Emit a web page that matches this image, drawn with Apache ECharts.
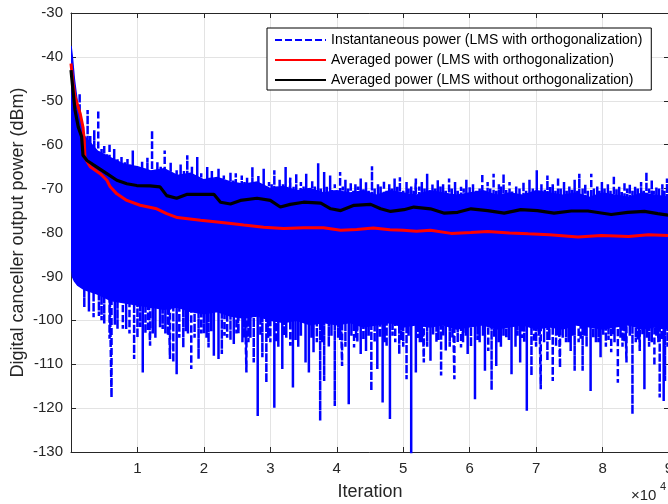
<!DOCTYPE html>
<html>
<head>
<meta charset="utf-8">
<script src="https://cdn.jsdelivr.net/npm/echarts@6/dist/echarts.min.js"></script>
<style>
  html, body { margin: 0; padding: 0; background: #fff; }
  #chart { width: 668px; height: 504px; }
</style>
</head>
<body>
<div id="chart"></div>
<script>
// x values are in units of 1e4 iterations
// dense part of the instantaneous power (top / bottom edge)
const coreX = [0, 0.02, 0.05, 0.1, 0.15, 0.2, 0.4, 0.6, 0.8, 1.0, 1.2, 1.4, 1.6, 1.8, 2.0, 2.2, 2.4, 2.6, 2.8, 3.0,
  3.2, 3.4, 3.6, 3.8, 4.0, 4.2, 4.4, 4.6, 4.8, 5.0, 5.2, 5.4, 5.6, 5.8, 6.0, 6.2, 6.4, 6.6, 6.8, 7.0,
  7.2, 7.4, 7.6, 7.8, 8.0, 8.2, 8.4, 8.6, 8.8, 9.0]
const coreTop = [-37.5, -40, -45, -51, -55, -58, -61.5, -63, -64.5, -65, -66, -65.5, -67, -66.5, -68, -67.5, -68.5, -69, -68.5, -70,
  -69.5, -70.5, -70, -71, -70.5, -71, -70.5, -71.5, -70.5, -71, -71.5, -70.5, -71, -71.5, -71, -70.5, -71.5, -71, -71.5, -70.5,
  -71, -71.5, -71, -72, -71, -71.5, -72, -71, -71.5, -72]
const coreBottom = [-86, -90, -91, -92, -92.5, -93, -94, -95.5, -96, -96.5, -97, -97.5, -97, -98, -98.5, -98, -99, -99.5, -99, -100,
  -100.5, -100, -101, -100.5, -101, -100.5, -101.5, -101, -100.5, -101.5, -101, -101.5, -101, -102, -101.5, -101, -102, -101.5, -101, -102,
  -101.5, -102, -101, -101.5, -102, -101.5, -101, -102, -101.5, -102]

// upward spikes of the instantaneous power
const upSpikeX = [0.13, 0.25, 0.35, 0.41, 0.5, 0.58, 0.65, 0.76, 0.85, 0.93, 1.07, 1.15, 1.22, 1.3, 1.41, 1.5, 1.59, 1.65, 1.75, 1.82,
  1.9, 2.05, 2.12, 2.22, 2.3, 2.4, 2.48, 2.57, 2.65, 2.73, 2.82, 2.9, 2.98, 3.06, 3.14, 3.23, 3.3, 3.39, 3.46, 3.54,
  3.63, 3.72, 3.81, 3.9, 3.97, 4.05, 4.13, 4.21, 4.28, 4.36, 4.44, 4.53, 4.62, 4.71, 4.79, 4.87, 4.95, 5.05, 5.12, 5.19,
  5.28, 5.36, 5.44, 5.52, 5.6, 5.69, 5.78, 5.87, 5.95, 6.05, 6.19, 6.27, 6.36, 6.44, 6.51, 6.6, 6.7, 6.81, 6.9, 7.01,
  7.08, 7.17, 7.25, 7.33, 7.42, 7.5, 7.58, 7.65, 7.74, 7.83, 7.92, 7.99, 8.08, 8.17, 8.25, 8.33, 8.41, 8.49, 8.58, 8.66,
  8.74, 8.81, 8.9, 8.97,
  0.18, 0.29, 0.46, 0.54, 0.7, 0.81, 0.89, 0.98, 1.11, 1.26, 1.35, 1.45, 1.55, 1.7, 1.86, 1.96, 2.09, 2.17, 2.27, 2.35,
  2.44, 2.53, 2.61, 2.69, 2.78, 2.86, 2.94, 3.02, 3.1, 3.19, 3.27, 3.35, 3.43, 3.5, 3.58, 3.67, 3.76, 3.85, 3.93, 4.01,
  4.09, 4.17, 4.25, 4.32, 4.4, 4.48, 4.57, 4.66, 4.75, 4.83, 4.91, 5.0, 5.08, 5.16, 5.24, 5.32, 5.4, 5.48, 5.56, 5.64,
  5.73, 5.82, 5.91, 6.0, 6.1, 6.15, 6.23, 6.31, 6.4, 6.47, 6.55, 6.64, 6.75, 6.85, 6.95, 7.04, 7.13, 7.21, 7.29, 7.37,
  7.46, 7.54, 7.62, 7.7, 7.78, 7.87, 7.95, 8.03, 8.12, 8.21, 8.29, 8.37, 8.45, 8.53, 8.62, 8.7, 8.77, 8.85, 8.93]
const upSpikeY = [-48.3, -52.1, -56.7, -52.1, -60, -59.7, -61, -62.8, -63, -61.3, -63.6, -63, -56.7, -64, -61.3, -64, -65.8, -64.5, -62.4, -65,
  -62.8, -65.1, -66, -65.5, -67, -66.2, -66.5, -67, -67.5, -65.1, -67, -65.5, -68.5, -65.8, -68, -65.1, -67.5, -66.6, -68.5, -66.6,
  -68, -64.2, -66.2, -67, -69, -66.2, -68, -68.5, -69, -67.7, -68.5, -64.9, -69, -68.1, -69, -67.7, -67.4, -68.5, -69.5, -67.7,
  -68.5, -66.6, -69, -68.1, -69, -67.7, -68.5, -69.6, -68, -69, -66.6, -68.5, -66.6, -69, -66.6, -68.5, -69.5, -68.5, -68, -65.8,
  -69, -67, -69, -67.4, -68.5, -69.5, -68, -66.6, -69, -66.6, -69.5, -68.5, -69, -67, -69.5, -68.5, -69, -69.6, -68.5, -66.2,
  -68, -69.6, -69, -67.7,
  -56, -58, -61, -62, -63, -64, -64.5, -65, -65.5, -66, -65, -66.5, -67, -66, -67, -66.5, -67.5, -68, -67.5, -68.5,
  -68, -69, -68.5, -69, -68.5, -69, -69.5, -69, -69.5, -69, -70, -69.5, -70, -69.5, -70, -69.5, -70, -69.5, -70, -70.5,
  -69.5, -70, -70.5, -69.5, -70, -70.5, -70, -69.5, -70.5, -70, -69.5, -70.5, -70, -70.5, -69.5, -70, -70.5, -70, -69.5, -70.5,
  -70, -70.5, -70, -69.5, -70.5, -70, -70.5, -70, -70.5, -69.5, -70, -70.5, -70, -70.5, -70, -70.5, -70, -69.5, -70.5, -70,
  -70.5, -70, -70.5, -70, -70.5, -70, -70.5, -70, -70.5, -70, -70.5, -70, -70.5, -70, -70.5, -70, -70.5, -70, -70.5]

// downward spikes of the instantaneous power
const downSpikeX = [0.2, 0.34, 0.42, 0.5, 0.58, 0.61, 0.7, 0.78, 0.88, 0.95, 1.0, 1.08, 1.12, 1.19, 1.27, 1.34, 1.42, 1.49, 1.54, 1.59,
  1.63, 1.69, 1.76, 1.81, 1.86, 1.92, 2.0, 2.07, 2.15, 2.22, 2.27, 2.35, 2.45, 2.52, 2.58, 2.64, 2.7, 2.75, 2.81, 2.88,
  2.94, 3.0, 3.06, 3.12, 3.18, 3.24, 3.3, 3.34, 3.42, 3.53, 3.58, 3.65, 3.7, 3.75, 3.81, 3.88, 3.97, 4.02, 4.08, 4.13,
  4.18, 4.26, 4.31, 4.36, 4.44, 4.52, 4.57, 4.61, 4.69, 4.75, 4.8, 4.88, 4.94, 5.0, 5.05, 5.12, 5.19, 5.25, 5.31, 5.36,
  5.41, 5.5, 5.57, 5.64, 5.7, 5.77, 5.82, 5.87, 5.97, 6.02, 6.08, 6.15, 6.23, 6.28, 6.33, 6.4, 6.47, 6.55, 6.63, 6.69,
  6.76, 6.82, 6.86, 6.93, 7.0, 7.07, 7.12, 7.17, 7.25, 7.3, 7.36, 7.45, 7.52, 7.58, 7.64, 7.7, 7.76, 7.82, 7.9, 7.97,
  8.05, 8.13, 8.18, 8.23, 8.3, 8.36, 8.45, 8.5, 8.56, 8.63, 8.7, 8.78, 8.84, 8.86, 8.92, 8.94, 8.98,
  0.27, 0.46, 0.66, 0.83, 1.04, 1.16, 1.23, 1.38, 1.46, 1.73, 1.96, 2.04, 2.11, 2.31, 2.4, 2.49, 2.61, 2.67, 2.85, 2.97,
  3.09, 3.21, 3.38, 3.46, 3.62, 3.78, 3.92, 4.05, 4.22, 4.29, 4.4, 4.48, 4.65, 4.72, 4.84, 4.97, 5.08, 5.22, 5.28, 5.45,
  5.53, 5.6, 5.74, 5.9, 5.94, 6.12, 6.2, 6.37, 6.44, 6.51, 6.59, 6.72, 6.79, 6.97, 7.04, 7.2, 7.33, 7.4, 7.49, 7.55,
  7.67, 7.73, 7.86, 7.94, 8.01, 8.09, 8.16, 8.27, 8.33, 8.41, 8.53, 8.6, 8.67, 8.74, 8.81, 8.89]
const downSpikeY = [-97, -99.3, -99, -100.8, -104.2, -117.6, -102, -101.9, -103, -108.8, -104, -111.9, -103, -105.8, -104, -101.6, -103, -108.8, -109.6, -112.3,
  -104, -106.2, -103, -111.1, -104, -108.8, -103, -106.2, -108.1, -108.8, -107.7, -104, -105.4, -103, -105, -111.9, -104, -109.6, -121.8, -108.4,
  -114.2, -105, -119.9, -106, -111.1, -104, -105.8, -115.3, -106, -109.6, -111.9, -107.3, -105, -122.9, -113.8, -106, -119.5, -104, -110.4, -106,
  -119.1, -106.2, -105, -107.7, -107, -116.1, -105, -111.1, -118.7, -106, -122.5, -105, -107.7, -106, -113.4, -132, -111.9, -105, -109.6, -106,
  -109.2, -105, -112.6, -106.9, -106, -113.4, -105, -106.2, -107.7, -106, -118, -105, -111.5, -107, -115.9, -110.4, -106, -104, -112.3, -106,
  -109.6, -105, -120.6, -112.6, -106, -115.7, -105, -109.2, -113.8, -106, -110.8, -105, -107, -111.5, -105, -111.5, -106, -116.1, -105, -108.4,
  -106, -107.3, -105, -114.2, -106, -109.6, -121.4, -105, -107, -115.7, -106, -110.4, -105, -117.6, -118.4, -113.8, -106,
  -98, -100, -101, -102, -101.5, -102.5, -103, -102, -103.5, -102.5, -103, -104, -102.5, -103.5, -104.5, -103, -104, -105, -103.5, -104,
  -105, -103.5, -104.5, -103.5, -104, -105, -103.5, -104.5, -103.5, -104, -104.5, -103.5, -104, -105, -103.5, -104.5, -103.5, -104, -105, -103.5,
  -104.5, -103.5, -104, -105, -103.5, -104.5, -103.5, -104, -105, -103.5, -104.5, -103.5, -104, -105, -103.5, -104.5, -103.5, -104, -105, -103.5,
  -104.5, -103.5, -104, -105, -103.5, -104.5, -103.5, -104, -105, -103.5, -104.5, -103.5, -104, -105, -103.5, -104.5]

// averaged power, LMS with orthogonalization
const redX = [0, 0.01, 0.03, 0.06, 0.1, 0.14, 0.18, 0.2, 0.21, 0.29, 0.44, 0.54, 0.59, 0.69, 0.84, 1.04, 1.29, 1.44, 1.6, 1.95,
  2.2, 2.44, 2.6, 2.9, 3.2, 3.5, 3.8, 4.06, 4.3, 4.55, 4.8, 5.0, 5.2, 5.41, 5.72, 6.02, 6.27, 6.6, 6.88, 7.2,
  7.63, 7.98, 8.2, 8.39, 8.69, 9.0]
const redY = [-41.5, -43, -46, -49, -51, -53, -56, -59, -63, -65, -66.6, -68.1, -69.6, -71.2, -72.7, -73.8, -74.6, -75.7, -76.6, -77.2,
  -77.6, -78, -78.3, -78.8, -79.1, -78.9, -78.9, -79.5, -79.3, -79, -79.4, -79.5, -79.7, -79.5, -80.2, -80, -79.8, -80.1, -80.3, -80.5,
  -81, -80.7, -80.8, -80.9, -80.5, -80.7]

// averaged power, LMS without orthogonalization
const blackX = [0, 0.01, 0.03, 0.06, 0.11, 0.16, 0.18, 0.24, 0.39, 0.54, 0.69, 0.84, 0.99, 1.19, 1.34, 1.44, 1.59, 1.75, 2.15, 2.25,
  2.4, 2.55, 2.8, 3.0, 3.15, 3.3, 3.5, 3.76, 3.91, 4.06, 4.26, 4.51, 4.66, 4.81, 5.01, 5.16, 5.41, 5.62, 5.82, 6.02,
  6.27, 6.52, 6.77, 7.02, 7.27, 7.53, 7.78, 8.13, 8.38, 8.63, 8.83, 9.0]
const blackY = [-43, -43.4, -47.6, -52.1, -56, -58.2, -62.4, -63.6, -65.1, -66.6, -68.1, -68.9, -69.3, -69.4, -69.6, -71.6, -72.2, -71.3, -71.3, -73.1,
  -73.5, -72.7, -72.2, -72.7, -74.2, -73.6, -73.1, -73.3, -74.6, -75, -73.8, -73.6, -74.6, -75.2, -74.8, -74.2, -74.6, -75.6, -75.4, -74.6,
  -75, -75.6, -74.8, -75, -75.6, -75.1, -75.1, -75.9, -75.4, -75.2, -75.7, -76.1]

const names = [
  'Instantaneous power (LMS with orthogonalization)',
  'Averaged power (LMS with orthogonalization)',
  'Averaged power (LMS without orthogonalization)'
]

const font = 'Liberation Sans, Arial, Helvetica, sans-serif'
const axisColor = '#262626'
const gridColor = '#e3e3e3'
const blue = '#0000ff'

// vertical dashes: each spike runs from inside the dense band out to its tip
const spikes = []
upSpikeX.forEach((x, i) => spikes.push({ x: x, base: -80, tip: upSpikeY[i] }))
downSpikeX.forEach((x, i) => spikes.push({ x: x, base: -90, tip: downSpikeY[i] }))
spikes.sort((a, b) => a.x - b.x)
const spikeData = []
spikes.forEach(s => {
  spikeData.push([s.x, s.base], [s.x, s.tip], [s.x, s.base])
})

function valueAxis(opts) {
  return Object.assign({
    type: 'value',
    axisLine: { show: true, onZero: false, lineStyle: { color: axisColor, width: 1 } },
    axisTick: { show: true, inside: true, length: 5, lineStyle: { color: axisColor } },
    axisLabel: { show: false },
    splitLine: { show: false }
  }, opts)
}

const chart = echarts.init(document.getElementById('chart'))
chart.setOption({
  animation: false,
  backgroundColor: '#fff',
  textStyle: { fontFamily: font },
  grid: { left: 71, top: 13, width: 598, height: 439, containLabel: false, outerBoundsMode: 'none' },
  legend: {
    data: names,
    orient: 'vertical',
    left: 267,
    top: 28,
    backgroundColor: '#fff',
    borderColor: '#000',
    borderWidth: 1,
    borderRadius: 0,
    padding: [5, 9, 3, 7],
    itemWidth: 51,
    itemHeight: 14,
    itemGap: 6,
    itemStyle: { opacity: 0 },
    textStyle: { fontSize: 14, color: '#000', fontFamily: font }
  },
  xAxis: [
    valueAxis({
      min: 0, max: 9, interval: 1, position: 'bottom',
      axisLabel: {
        show: true, color: axisColor, fontSize: 15, margin: 9, fontFamily: font,
        formatter: v => (v === 0 ? '' : String(v))
      },
      splitLine: { show: true, lineStyle: { color: gridColor, width: 1 } },
      name: 'Iteration',
      nameLocation: 'middle',
      nameGap: 31,
      nameMoveOverlap: false,
      nameTextStyle: { fontSize: 18, color: axisColor, fontFamily: font }
    }),
    valueAxis({ min: 0, max: 9, interval: 1, position: 'top' })
  ],
  yAxis: [
    valueAxis({
      min: -130, max: -30, interval: 10, position: 'left',
      axisLabel: { show: true, color: axisColor, fontSize: 15, margin: 8, fontFamily: font },
      splitLine: { show: true, lineStyle: { color: gridColor, width: 1 } },
      name: 'Digital canceller output power (dBm)',
      nameLocation: 'middle',
      nameGap: 44,
      nameMoveOverlap: false,
      nameTextStyle: { fontSize: 18, color: axisColor, fontFamily: font }
    }),
    valueAxis({ min: -130, max: -30, interval: 10, position: 'right' })
  ],
  graphic: [
    { type: 'text', left: 631, top: 488, style: { text: '×10', font: '15px ' + font, fill: axisColor } },
    { type: 'text', left: 660, top: 481, style: { text: '4', font: '11px ' + font, fill: axisColor } }
  ],
  series: [
    {
      // dense band drawn as one polygon through the axis scales
      type: 'custom',
      silent: true,
      clip: true,
      encode: { x: 0, y: [1, 2] },
      data: coreX.map((x, i) => [x, coreTop[i], coreBottom[i]]),
      renderItem: function (params, api) {
        if (params.dataIndex !== 0) return null
        const top = coreX.map((x, i) => api.coord([x, coreTop[i]]))
        const bottom = coreX.map((x, i) => api.coord([x, coreBottom[i]])).reverse()
        return {
          type: 'polygon',
          shape: { points: top.concat(bottom) },
          style: { fill: blue, stroke: blue, lineWidth: 1.5 }
        }
      }
    },
    {
      name: names[0],
      type: 'line',
      symbol: 'none',
      color: blue,
      lineStyle: { color: blue, width: 2.5, type: [7, 3] },
      data: spikeData
    },
    {
      name: names[1],
      type: 'line',
      symbol: 'none',
      color: '#ff0000',
      lineStyle: { color: '#ff0000', width: 3 },
      data: redX.map((x, i) => [x, redY[i]])
    },
    {
      name: names[2],
      type: 'line',
      symbol: 'none',
      color: '#000000',
      lineStyle: { color: '#000000', width: 3.2 },
      data: blackX.map((x, i) => [x, blackY[i]])
    }
  ]
})
</script>
</body>
</html>
